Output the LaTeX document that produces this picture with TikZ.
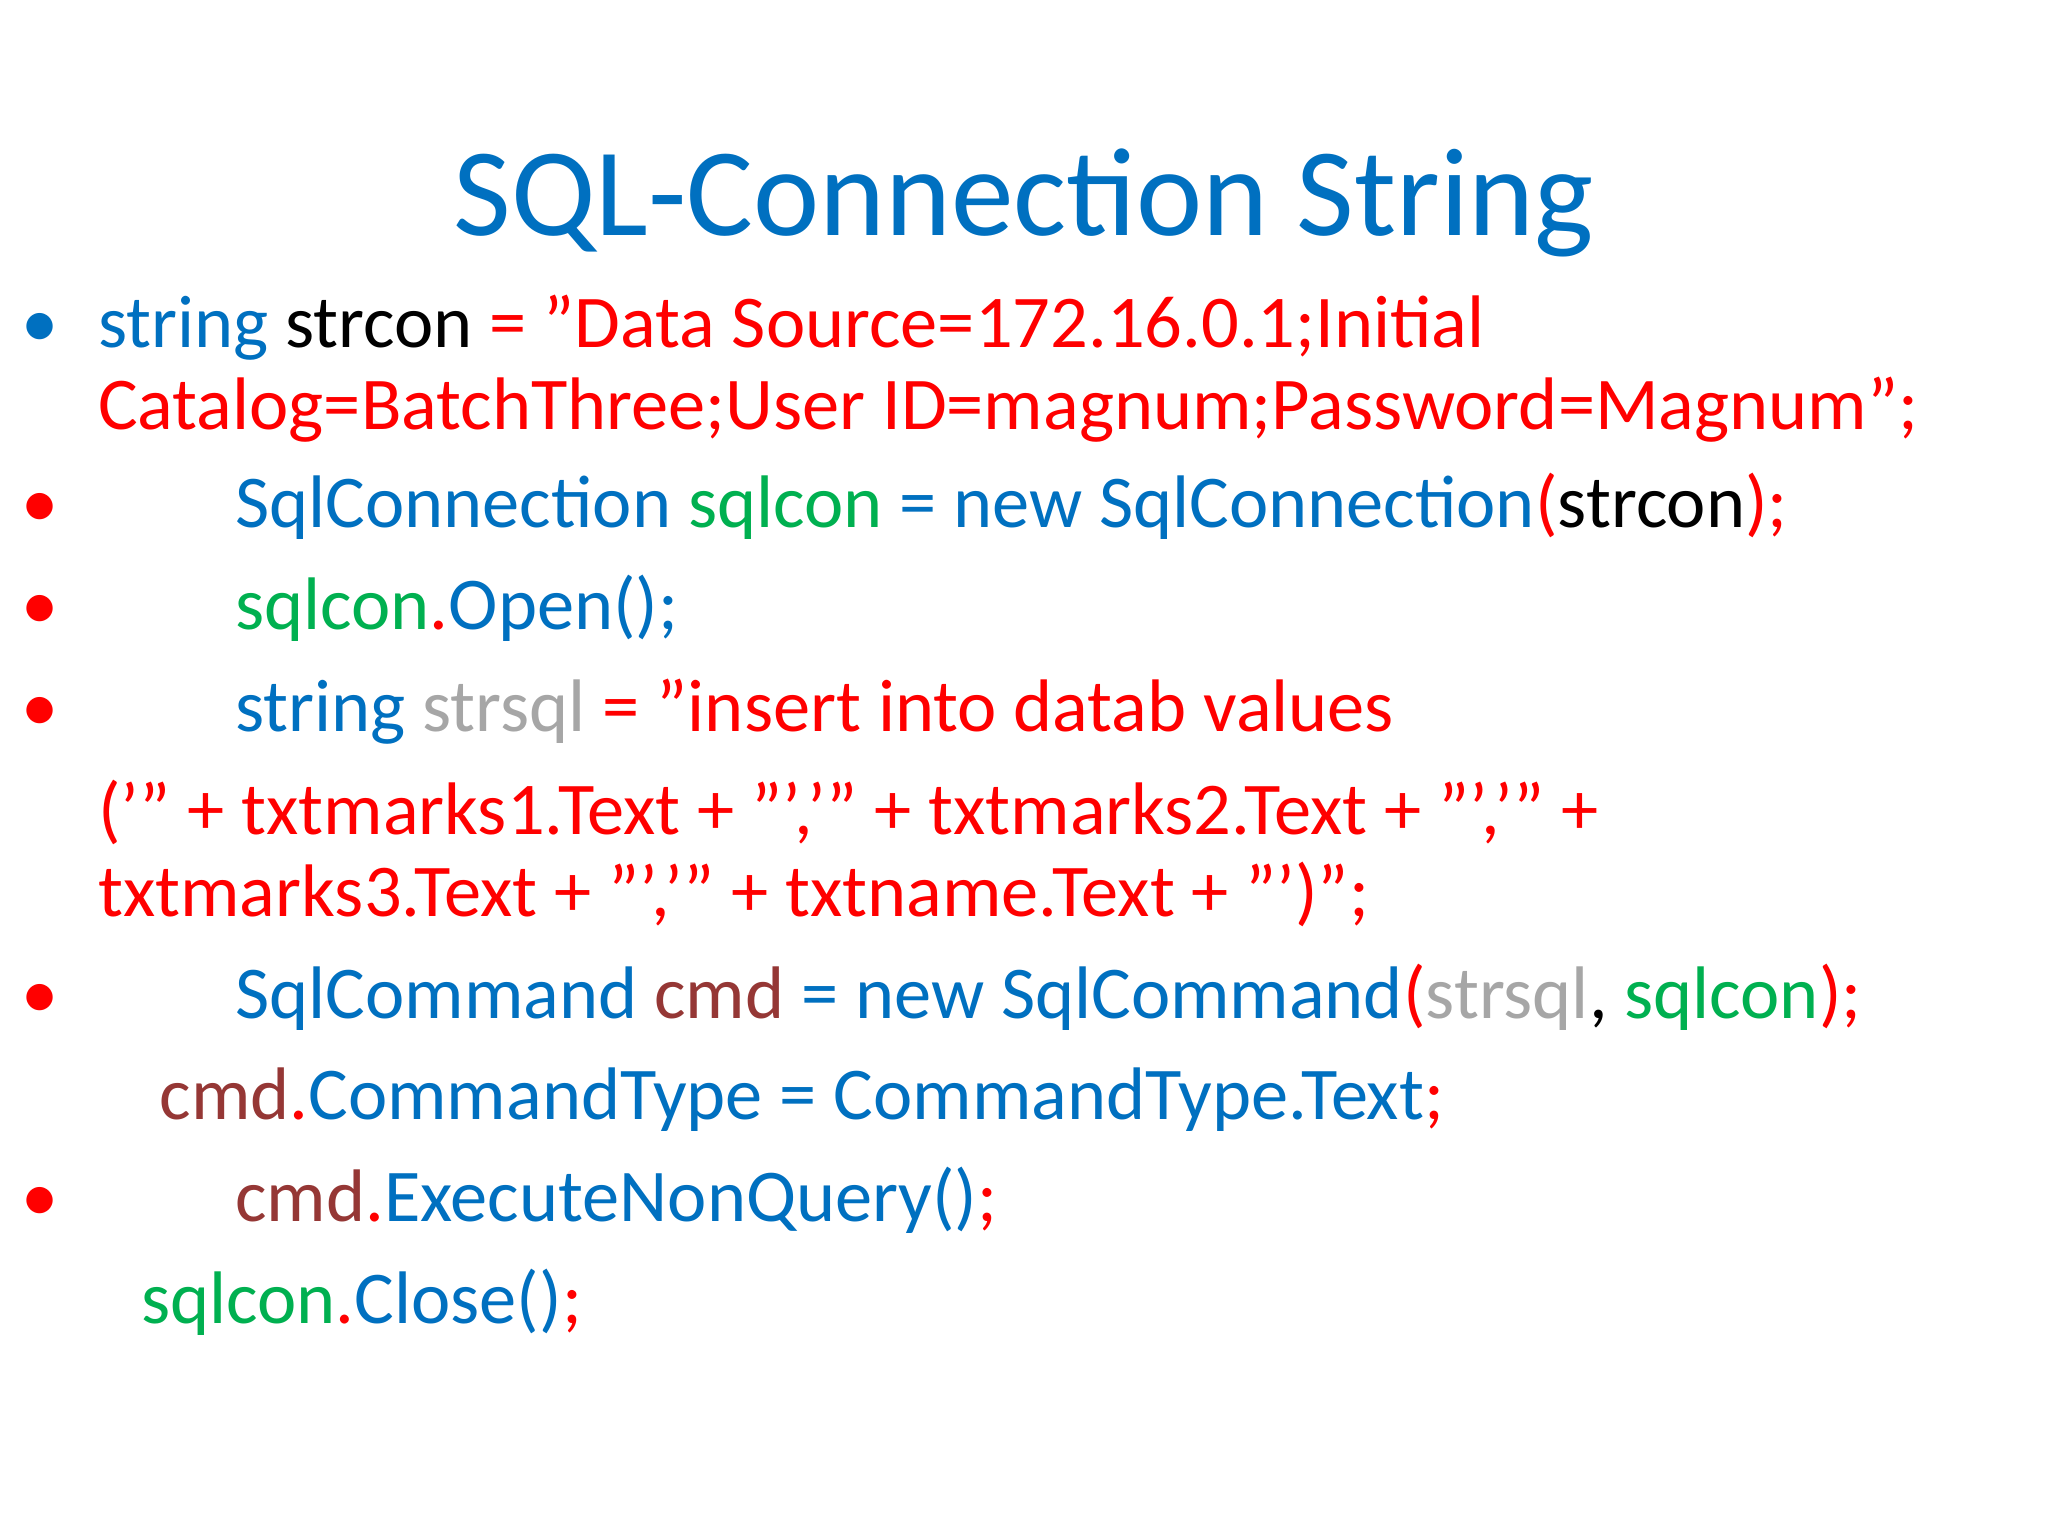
\documentclass[tikz,border=0pt]{standalone}
\usepackage{fontspec}
\setmainfont{Carlito}
\definecolor{cb}{HTML}{0070C0}
\definecolor{cr}{HTML}{FF0000}
\definecolor{cg}{HTML}{00B050}
\definecolor{cy}{HTML}{A6A6A6}
\definecolor{cn}{HTML}{953735}
\definecolor{ck}{HTML}{000000}
\begin{document}
\begin{tikzpicture}[x=1pt,y=-1pt,
  ln/.style={anchor=base west,inner sep=0pt,font=\fontsize{57}{62}\selectfont},
  bl/.style={anchor=base west,inner sep=0pt,font=\fontsize{57}{62}\selectfont}]
\fill[white] (0,0) rectangle (1568,1176);
\useasboundingbox (0,0) rectangle (1568,1176);
\node[anchor=base,inner sep=0pt,text=cb,font=\fontsize{96}{100}\selectfont] (title) at (784,180) {SQL-Connection String};
\node[bl,text=cb] (b1) at (16,266) {•};
\node[ln] (l1) at (75,266) {\color{cb}string \color{ck}strcon \color{cr}= "Data Source=172.16.0.1;Initial};
\node[ln,text=cr] (l2) at (75,329) {Catalog=BatchThree;User ID=magnum;Password=Magnum";};
\node[bl,text=cr] (b3) at (16,404) {•};
\node[ln] (l3) at (180,404) {\color{cb}SqlConnection \color{cg}sqlcon \color{cb}= new SqlConnection\color{cr}(\color{ck}strcon\color{cr});};
\node[bl,text=cr] (b4) at (16,482) {•};
\node[ln] (l4) at (180,482) {\color{cg}sqlcon\color{cr}.\color{cb}Open();};
\node[bl,text=cr] (b5) at (16,560) {•};
\node[ln] (l5) at (180,560) {\color{cb}string \color{cy}strsql \color{cr}= "insert into datab values};
\node[ln,text=cr] (l6) at (75,639) {('" + txtmarks1.Text + "','" + txtmarks2.Text + "','" +};
\node[ln,text=cr] (l7) at (75,702) {txtmarks3.Text + "','" + txtname.Text + "')";};
\node[bl,text=cr] (b8) at (16,780) {•};
\node[ln] (l8) at (180,780) {\color{cb}SqlCommand \color{cn}cmd \color{cb}= new SqlCommand\color{cr}(\color{cy}strsql\color{ck}, \color{cg}sqlcon\color{cr});};
\node[ln] (l9) at (122,857) {\color{cn}cmd\color{cr}.\color{cb}CommandType = CommandType.Text\color{cr};};
\node[bl,text=cr] (b10) at (16,935) {•};
\node[ln] (l10) at (180,935) {\color{cn}cmd\color{cr}.\color{cb}ExecuteNonQuery()\color{cr};};
\node[ln] (l11) at (108,1013) {\color{cg}sqlcon\color{cr}.\color{cb}Close()\color{cr};};
\end{tikzpicture}
\end{document}
